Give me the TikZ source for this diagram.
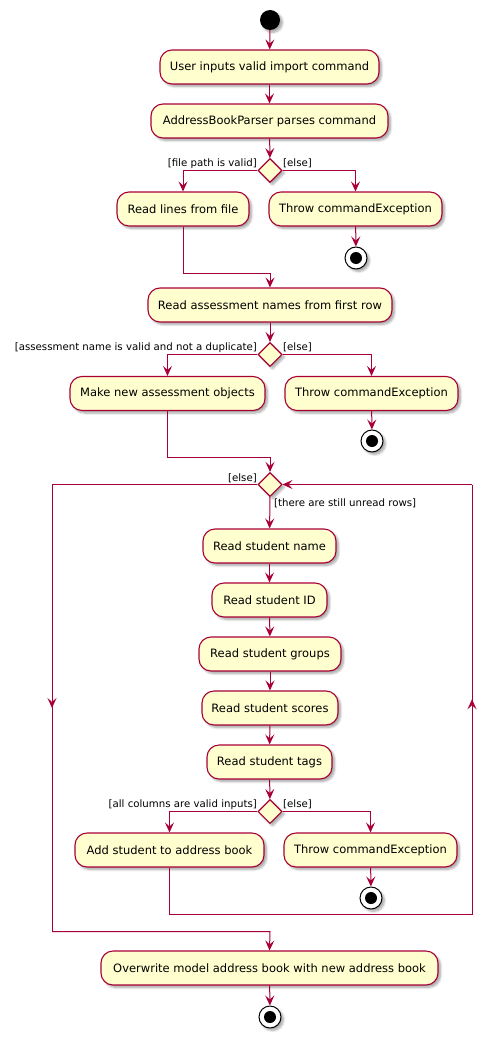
\documentclass[tikz,border=0pt]{standalone}
\usepackage{fontspec}
\setmainfont{DejaVu Sans}
\usetikzlibrary{arrows.meta,shapes.geometric,shadows.blur}
\definecolor{puml}{HTML}{A80036}
\definecolor{pfill}{HTML}{FEFECE}
\tikzset{
  shad/.style={blur shadow={shadow xshift=2.5pt,shadow yshift=-2.5pt,shadow blur steps=6,shadow opacity=35}},
  box/.style={draw=puml,fill=pfill,line width=1.1pt,rounded corners=12pt,minimum height=34pt,inner sep=0pt,font=\fontsize{11.5}{13}\selectfont,shad},
  dia/.style={diamond,draw=puml,fill=pfill,line width=1.1pt,minimum width=24pt,minimum height=24pt,inner sep=0pt,aspect=1,shad},
  startn/.style={circle,fill=black,minimum size=20pt,inner sep=0pt,shad},
  stopn/.style={circle,draw=black,fill=white,line width=1pt,minimum size=22pt,inner sep=0pt,shad,
    path picture={\fill[black] (path picture bounding box.center) circle (6pt);}},
  ln/.style={draw=puml,line width=1pt},
  arr/.style={ln,-{Stealth[length=10pt,width=9pt,inset=4pt]}},
  lbl/.style={font=\fontsize{10.2}{12}\selectfont,inner sep=0pt}
}
\begin{document}
\begin{tikzpicture}[x=1pt,y=-1pt]
\useasboundingbox (0,0) rectangle (497,1043);
\node[startn] (s) at (270,20) {};
\node[box,minimum width=219pt] (b1) at (269.5,67) {User inputs valid import command};
\node[box,minimum width=237pt] (b2) at (269.5,121) {AddressBookParser parses command};
\node[dia] (d1) at (270,170.5) {};
\node[box,minimum width=132pt] (b3) at (183,209) {Read lines from file};
\node[box,minimum width=173pt] (t1) at (355.5,209) {Throw commandException};
\node[stopn] (e1) at (356,258) {};
\coordinate (m1) at (270,273);
\node[box,minimum width=244pt] (b5) at (270,305) {Read assessment names from first row};
\node[dia] (d2) at (270,354.5) {};
\node[box,minimum width=195pt] (b6) at (167.5,393.5) {Make new assessment objects};
\node[box,minimum width=173pt] (t2) at (371.5,393.5) {Throw commandException};
\node[stopn] (e2) at (372,441) {};
\coordinate (m2) at (270,457);
\node[dia] (d3) at (270,484.5) {};
\node[box,minimum width=133pt] (b7) at (269.5,546) {Read student name};
\node[box,minimum width=115pt] (b8) at (269.5,600) {Read student ID};
\node[box,minimum width=142pt] (b9) at (270,654) {Read student groups};
\node[box,minimum width=136pt] (b10) at (270,708) {Read student scores};
\node[box,minimum width=125pt] (b11) at (269.5,762) {Read student tags};
\node[dia] (d4) at (270,811.5) {};
\node[box,minimum width=189pt] (b12) at (169.5,850) {Add student to address book};
\node[box,minimum width=173pt] (t3) at (370.5,850) {Throw commandException};
\node[stopn] (e3) at (371,898) {};
\coordinate (r1) at (472,914);
\coordinate (r2) at (472,484.5);
\coordinate (l1) at (52,484.5);
\coordinate (l2) at (52,931.5);
\coordinate (m3) at (270,931.5);
\node[box,minimum width=337pt] (b13) at (269.5,968) {Overwrite model address book with new address book};
\node[stopn] (e4) at (270,1017) {};
% connectors
\draw[arr] (s) -- (b1);
\draw[arr] (b1) -- (b2);
\draw[arr] (b2) -- (d1);
\draw[arr] (d1.west) -| (b3.north);
\draw[arr] (d1.east) -| (t1.north);
\draw[arr] (t1) -- (e1);
\draw[arr] (b3.south) |- (m1) -- (b5.north);
\draw[arr] (b5) -- (d2);
\draw[arr] (d2.west) -| (b6.north);
\draw[arr] (d2.east) -| (t2.north);
\draw[arr] (t2) -- (e2);
\draw[arr] (b6.south) |- (m2) -- (d3.north);
\draw[arr] (d3) -- (b7);
\draw[arr] (b7) -- (b8);
\draw[arr] (b8) -- (b9);
\draw[arr] (b9) -- (b10);
\draw[arr] (b10) -- (b11);
\draw[arr] (b11) -- (d4);
\draw[arr] (d4.west) -| (b12.north);
\draw[arr] (d4.east) -| (t3.north);
\draw[arr] (t3) -- (e3);
\draw[ln] (b12.south) |- (r1) -- (r2);
\draw[arr] (r2) -- (d3.east);
\draw[arr] (r1) -- ($(r1)!0.5!(r2)$);
\draw[ln] (d3.west) -- (l1) -- (l2);
\draw[arr] (l1) -- ($(l1)!0.5!(l2)$);
\draw[arr] (l2) -- (m3) -- (b13.north);
\draw[arr] (b13) -- (e4);
% labels
\node[lbl,anchor=base east] (g1) at (257,166.5) {[file path is valid]};
\node[lbl,anchor=base west] (g2) at (283,166.5) {[else]};
\node[lbl,anchor=base east] (g3) at (257,350.5) {[assessment name is valid and not a duplicate]};
\node[lbl,anchor=base west] (g4) at (283,350.5) {[else]};
\node[lbl,anchor=base east] (g5) at (257,481) {[else]};
\node[lbl,anchor=base west] (g6) at (274,506.5) {[there are still unread rows]};
\node[lbl,anchor=base east] (g7) at (257,807.5) {[all columns are valid inputs]};
\node[lbl,anchor=base west] (g8) at (283,807.5) {[else]};
\end{tikzpicture}
\end{document}
